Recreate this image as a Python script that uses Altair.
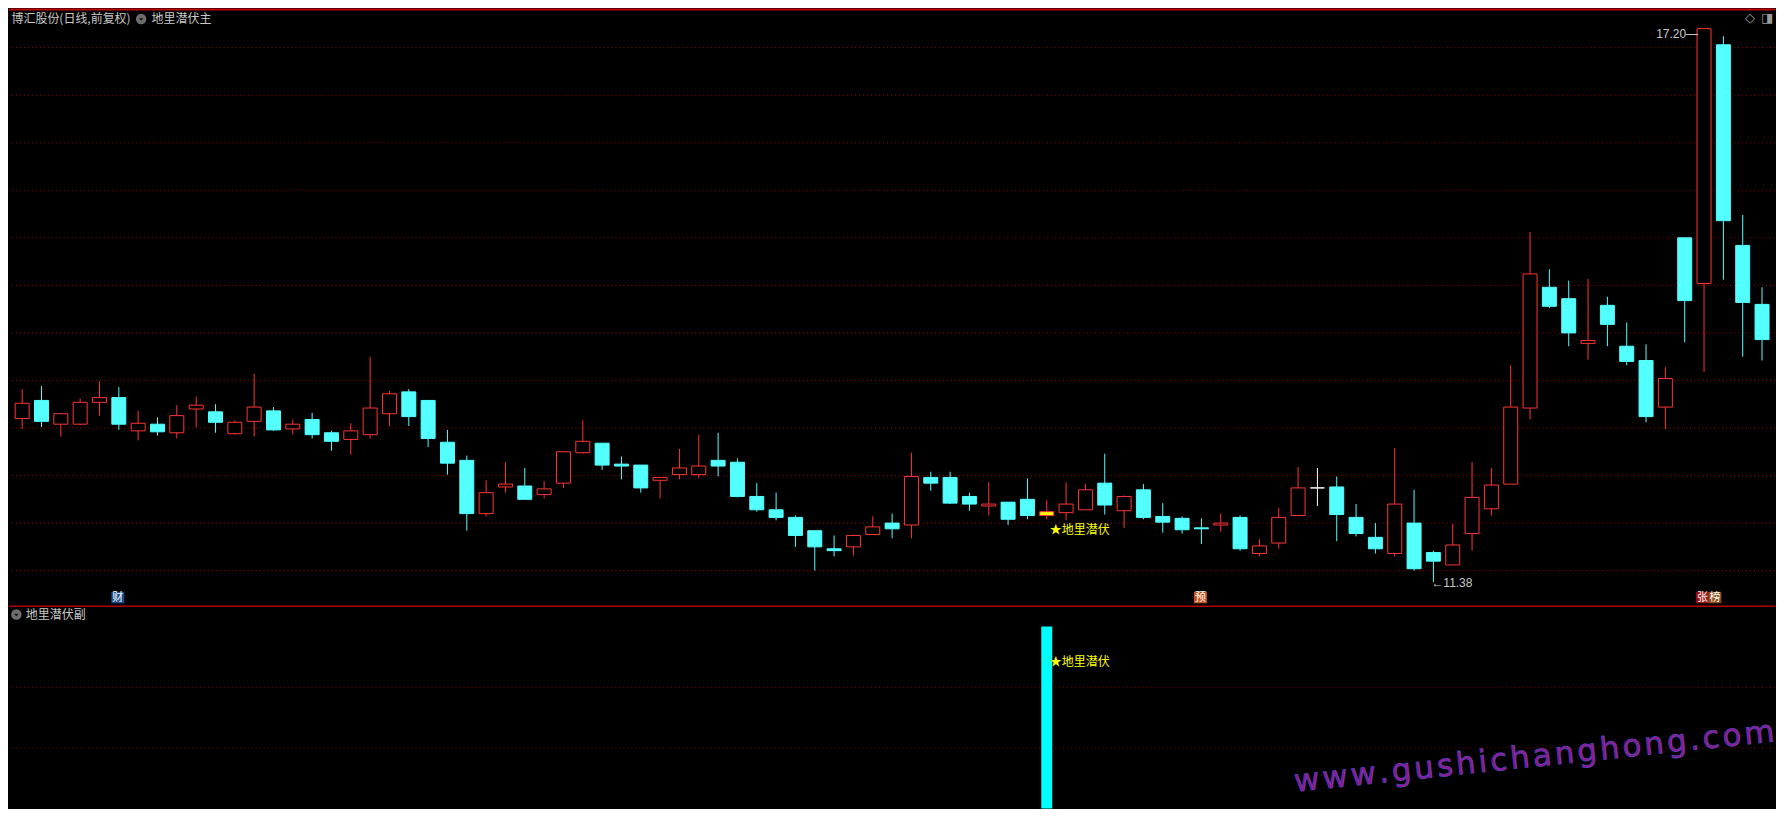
import altair as alt
import pandas as pd

# ---------------- data ----------------
opens = [13.10, 13.29, 13.04, 13.04, 13.27, 13.32, 12.97, 13.04, 12.95, 13.20,
         13.17, 12.94, 13.07, 13.18, 12.99, 13.09, 12.95, 12.88, 12.93, 13.15,
         13.38, 13.29, 12.85, 12.66, 12.10, 12.38, 12.39, 12.30, 12.42, 12.74,
         12.84, 12.62, 12.61, 12.45, 12.51, 12.51, 12.66, 12.64, 12.28, 12.14,
         12.06, 11.92, 11.73, 11.75, 11.88, 12.00, 11.98, 12.48, 12.48, 12.28,
         12.18, 12.22, 12.25, 12.08, 12.11, 12.14, 12.42, 12.13, 12.35, 12.07,
         12.05, 11.95, 11.98, 12.06, 11.68, 11.79, 12.08, 12.37, 12.38, 12.06,
         11.85, 11.68, 12.00, 11.69, 11.56, 11.89, 12.15, 12.41, 13.21, 14.48,
         14.36, 13.89, 14.29, 13.86, 13.71, 13.22, 15.00, 14.52, 17.03, 14.92,
         14.30]
highs = [13.41, 13.44, 13.16, 13.31, 13.49, 13.43, 13.18, 13.11, 13.24, 13.33,
         13.25, 13.08, 13.57, 13.22, 13.09, 13.16, 12.97, 13.05, 13.75, 13.39,
         13.41, 13.29, 12.98, 12.71, 12.45, 12.64, 12.58, 12.44, 12.75, 13.08,
         12.84, 12.70, 12.61, 12.48, 12.78, 12.93, 12.95, 12.68, 12.42, 12.32,
         12.08, 11.92, 11.87, 11.88, 12.07, 12.10, 12.74, 12.54, 12.54, 12.32,
         12.43, 12.22, 12.47, 12.24, 12.43, 12.41, 12.73, 12.29, 12.41, 12.21,
         12.07, 12.05, 12.10, 12.08, 11.83, 12.16, 12.59, 12.58, 12.49, 12.20,
         12.00, 12.79, 12.35, 11.71, 11.99, 12.64, 12.58, 13.66, 15.06, 14.67,
         14.55, 14.57, 14.38, 14.11, 13.88, 13.64, 15.00, 17.20, 17.12, 15.24,
         14.48]
lows = [12.99, 13.01, 12.91, 13.03, 13.13, 12.98, 12.87, 12.92, 12.89, 13.01,
        12.95, 12.93, 12.91, 12.97, 12.93, 12.89, 12.76, 12.72, 12.89, 13.02,
        13.02, 12.80, 12.51, 11.92, 12.07, 12.32, 12.25, 12.26, 12.37, 12.73,
        12.56, 12.46, 12.32, 12.26, 12.46, 12.47, 12.49, 12.27, 12.12, 12.03,
        11.75, 11.50, 11.65, 11.66, 11.88, 11.84, 11.84, 12.34, 12.20, 12.13,
        12.08, 11.98, 12.04, 12.04, 12.03, 12.14, 12.09, 11.95, 12.04, 11.90,
        11.89, 11.78, 11.91, 11.71, 11.65, 11.73, 12.08, 12.18, 11.81, 11.86,
        11.68, 11.65, 11.50, 11.38, 11.56, 11.71, 12.08, 12.41, 13.09, 14.26,
        13.86, 13.72, 13.86, 13.66, 13.06, 12.99, 13.90, 13.59, 14.56, 13.75,
        13.71]
closes = [13.26, 13.07, 13.15, 13.27, 13.32, 13.04, 13.05, 12.96, 13.13, 13.24,
          13.06, 13.06, 13.22, 12.98, 13.04, 12.93, 12.86, 12.97, 13.21, 13.36,
          13.12, 12.89, 12.63, 12.10, 12.32, 12.41, 12.25, 12.36, 12.75, 12.86,
          12.61, 12.60, 12.37, 12.48, 12.58, 12.60, 12.60, 12.28, 12.14, 12.06,
          11.87, 11.75, 11.71, 11.87, 11.96, 11.94, 12.49, 12.42, 12.21, 12.20,
          12.20, 12.04, 12.08, 12.12, 12.20, 12.35, 12.19, 12.28, 12.06, 12.01,
          11.93, 11.94, 12.00, 11.73, 11.76, 12.06, 12.37, 12.37, 12.09, 11.89,
          11.73, 12.20, 11.52, 11.60, 11.77, 12.27, 12.40, 13.22, 14.62, 14.28,
          14.00, 13.92, 14.09, 13.70, 13.12, 13.52, 14.34, 17.20, 15.18, 14.32,
          13.93]

price_grid = [11.5, 12.0, 12.5, 13.0, 13.5, 14.0, 14.5, 15.0, 15.5, 16.0, 16.5, 17.0]

signal_day = 53
signal_value = 3.0
signal_label = "★地里潜伏"
sub_grid = [1.0, 2.0]

event_days = [5, 61, 87]
event_tags = ["财", "预", "张榜"]

title_main = "博汇股份(日线,前复权)"
indicator_main = "地里潜伏主"
indicator_sub = "地里潜伏副"
watermark = "www.gushichanghong.com"

# ---------------- layout / style ----------------
W = 1768
H_MAIN = 597
H_SUB = 203
X_DOM = [-0.4226, 90.412]
Y_DOM = [11.141, 17.412]
SUB_DOM = [0, 3.34]

RED = "#FF3434"
CYAN = "#54FFFF"
GRID = "#A00000"
TXT = "#C8C8C8"
CJK = "Noto Sans CJK SC"

n = len(opens)
df = pd.DataFrame({"i": list(range(n)), "o": opens, "h": highs, "l": lows, "c": closes})
df["top"] = df[["o", "c"]].max(axis=1)
df["bot"] = df[["o", "c"]].min(axis=1)


def stroke_of(r):
    if r.c > r.o:
        return RED
    if r.c < r.o:
        return CYAN
    return "#FFFFFF"


def fill_of(r):
    if r.i == signal_day:
        return "#FFFF00"
    if r.c > r.o:
        return "#000000"
    if r.c < r.o:
        return CYAN
    return "#FFFFFF"


df["stroke"] = df.apply(stroke_of, axis=1)
df["fill"] = df.apply(fill_of, axis=1)

xs = alt.Scale(domain=X_DOM, nice=False, zero=False)
ys = alt.Scale(domain=Y_DOM, nice=False, zero=False)


def one_text(txt, x, y, color=TXT, size=12, font=CJK, align="left", **kw):
    return alt.Chart(pd.DataFrame({"t": [txt]})).mark_text(
        align=align, baseline="middle", font=font, fontSize=size, color=color, **kw
    ).encode(x=alt.value(x), y=alt.value(y), text="t:N")


grid = alt.Chart(pd.DataFrame({"p": price_grid})).mark_rule(
    color=GRID, strokeDash=[1, 3], strokeWidth=1
).encode(y=alt.Y("p:Q", scale=ys, axis=None))

wicks = alt.Chart(df).mark_rule(strokeWidth=1, clip=True).encode(
    x=alt.X("i:Q", scale=xs, axis=None),
    y=alt.Y("l:Q", scale=ys, axis=None),
    y2="h:Q",
    color=alt.Color("stroke:N", scale=None),
)

bodies = alt.Chart(df).mark_bar(size=14, strokeWidth=1, clip=True).encode(
    x=alt.X("i:Q", scale=xs, axis=None),
    y=alt.Y("top:Q", scale=ys, axis=None),
    y2="bot:Q",
    fill=alt.Fill("fill:N", scale=None),
    stroke=alt.Stroke("stroke:N", scale=None),
)

hi_i = max(range(n), key=lambda k: highs[k])
lo_i = min(range(n), key=lambda k: lows[k])
ann = pd.DataFrame({
    "i": [hi_i, lo_i],
    "p": [highs[hi_i], lows[lo_i]],
    "t": [f"{highs[hi_i]:.2f}—", f"←{lows[lo_i]:.2f}"],
})
hi_text = alt.Chart(ann.iloc[[0]]).mark_text(
    align="right", baseline="middle", font="Liberation Sans", fontSize=12, color=TXT, dx=-6, dy=5
).encode(x=alt.X("i:Q", scale=xs, axis=None), y=alt.Y("p:Q", scale=ys, axis=None), text="t:N")
lo_text = alt.Chart(ann.iloc[[1]]).mark_text(
    align="left", baseline="middle", font="Liberation Sans", fontSize=12, color=TXT, dx=-2, dy=1
).encode(x=alt.X("i:Q", scale=xs, axis=None), y=alt.Y("p:Q", scale=ys, axis=None), text="t:N")

sig = pd.DataFrame({"i": [signal_day], "p": [lows[signal_day]], "t": [signal_label]})
sig_text = alt.Chart(sig).mark_text(
    align="left", baseline="middle", font=CJK, fontSize=12, color="#FFFF00", dx=3, dy=11
).encode(x=alt.X("i:Q", scale=xs, axis=None), y=alt.Y("p:Q", scale=ys, axis=None), text="t:N")

EV_COL = {"财": "#1C4C8C", "预": "#C4521C", "张": "#9A1212", "榜": "#8A4A16"}
rows = []
for d, tag in zip(event_days, event_tags):
    for k, ch in enumerate(tag):
        off = (-1.5 + 12.5 * k) if len(tag) > 1 else -1.0
        rows.append({"pos": d + off / 19.64, "ch": ch, "bg": EV_COL[ch]})
ev = pd.DataFrame(rows)
ev_box = alt.Chart(ev).mark_bar(size=13).encode(
    x=alt.X("pos:Q", scale=xs, axis=None),
    y=alt.value(584), y2=alt.value(595.5),
    color=alt.Color("bg:N", scale=None),
)
ev_txt = alt.Chart(ev).mark_text(font=CJK, fontSize=11, color="#FFFFFF", baseline="middle").encode(
    x=alt.X("pos:Q", scale=xs, axis=None), y=alt.value(590), text="ch:N"
)

top_line = alt.Chart(pd.DataFrame({"a": [0]})).mark_rule(color="#C00000", strokeWidth=2).encode(
    y=alt.value(1)
)
icon_bg = alt.Chart(pd.DataFrame({"a": [0]})).mark_point(
    shape="circle", filled=True, size=110, color="#6E6E6E", opacity=1
)
icon_v = alt.Chart(pd.DataFrame({"a": [0]})).mark_point(
    shape="M-0.5,-0.25L0,0.25L0.5,-0.25", filled=False, size=30, color="#1E1E1E", strokeWidth=1.6, opacity=1
)
head = [
    one_text(title_main, 2.5, 10.5),
    icon_bg.encode(x=alt.value(132.3), y=alt.value(10.5)),
    icon_v.encode(x=alt.value(132.3), y=alt.value(10.5)),
    one_text(indicator_main, 142.7, 10.5),
    one_text("◇", 1743, 10, color="#9A9A9A", size=13, font="DejaVu Sans", align="center"),
    one_text("◨", 1760, 10, color="#9A9A9A", size=13, font="DejaVu Sans", align="center"),
]

main = alt.layer(
    grid, wicks, bodies, hi_text, lo_text, sig_text, ev_box, ev_txt, top_line, *head
).properties(width=W, height=H_MAIN)

# ---------------- sub panel ----------------
sy = alt.Scale(domain=SUB_DOM, nice=False, zero=True)
sub_grid_l = alt.Chart(pd.DataFrame({"v": sub_grid})).mark_rule(
    color="#8A0000", strokeDash=[1, 3], strokeWidth=1
).encode(y=alt.Y("v:Q", scale=sy, axis=None))
sub_df = pd.DataFrame({"i": [signal_day], "v": [signal_value], "t": [signal_label]})
sub_bar = alt.Chart(sub_df).mark_bar(size=11, color="#00FFFF").encode(
    x=alt.X("i:Q", scale=xs, axis=None), y=alt.Y("v:Q", scale=sy, axis=None)
)
sub_lbl = alt.Chart(sub_df).mark_text(
    align="left", baseline="middle", font=CJK, fontSize=12, color="#FFFF00", dx=3, dy=36
).encode(x=alt.X("i:Q", scale=xs, axis=None), y=alt.Y("v:Q", scale=sy, axis=None), text="t:N")
sep = alt.Chart(pd.DataFrame({"a": [0]})).mark_rule(color="#B00000", strokeWidth=1.5).encode(
    y=alt.value(0.5)
)
wm_text = "\u200a".join(watermark)
wm = alt.Chart(pd.DataFrame({"t": [wm_text]})).mark_text(
    font="DejaVu Sans", fontSize=31, fill="#94188F", stroke="#4E46C0", strokeWidth=0.7,
    angle=354, align="center", baseline="middle"
).encode(x=alt.value(1527), y=alt.value(152), text="t:N")
sub = alt.layer(
    sub_grid_l, sub_bar, sub_lbl, sep, wm,
    icon_bg.encode(x=alt.value(7.4), y=alt.value(8.8)),
    icon_v.encode(x=alt.value(7.4), y=alt.value(8.8)),
    one_text(indicator_sub, 16.8, 9),
).properties(width=W, height=H_SUB)

chart = alt.vconcat(main, sub, spacing=0).properties(
    background="#000000", padding=0
).configure_view(strokeWidth=0).configure_concat(spacing=0)

chart.save("out.html", embed_options={"renderer": "svg", "actions": False})
